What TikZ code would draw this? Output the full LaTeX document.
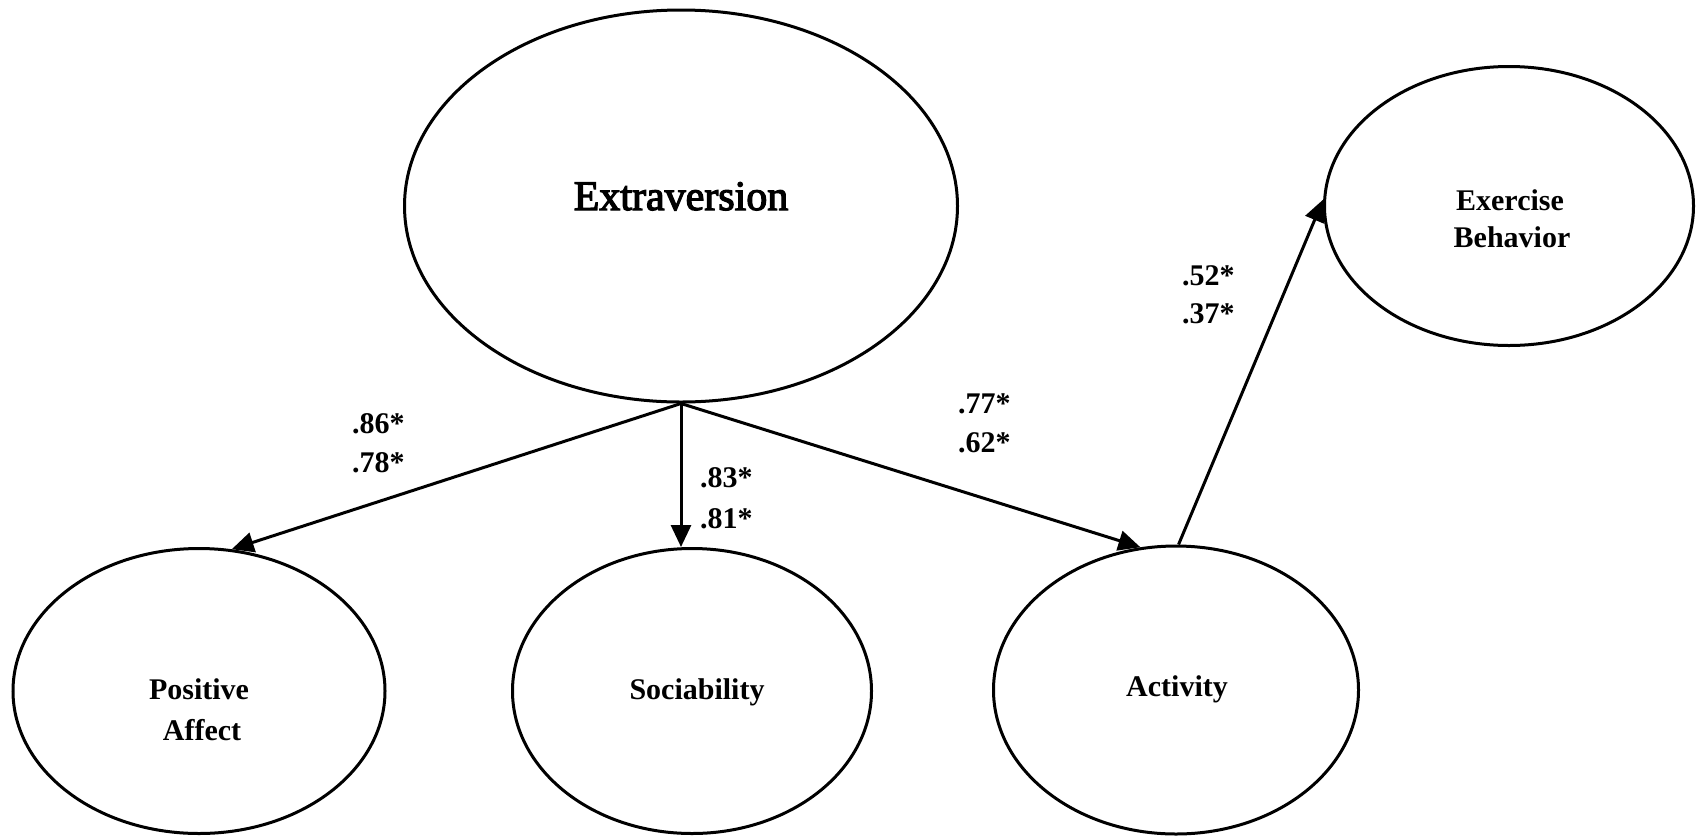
\documentclass[tikz,border=0pt]{standalone}
\usepackage{fontspec}
\setmainfont{Liberation Serif}
\newfontfamily\heavyserif[FakeBold=3]{Liberation Serif}
\usetikzlibrary{arrows.meta,shapes.geometric}

\tikzset{
  latent/.style={ellipse, draw, line width=3pt, inner sep=0pt},
  effect/.style={line width=3pt, -{Triangle[length=22pt,width=20pt]}},
  bigvar/.style={font=\fontsize{42}{50}\selectfont\heavyserif, inner sep=0pt, anchor=base},
  varlabel/.style={font=\fontsize{30}{36}\selectfont\bfseries, inner sep=0pt, anchor=base},
  coef/.style={font=\fontsize{30}{36}\selectfont\bfseries, inner sep=0pt, anchor=base west}
}

\begin{document}
\begin{tikzpicture}[x=1pt, y=-1pt]
\useasboundingbox (0,0) rectangle (1697,836);

% latent variables
\node[latent, minimum width=553pt, minimum height=392pt] (ext) at (681,206) {};
\node[latent, minimum width=372pt, minimum height=285pt] (pa)  at (199,691) {};
\node[latent, minimum width=359pt, minimum height=285pt] (soc) at (692,691) {};
\node[latent, minimum width=365pt, minimum height=288pt] (act) at (1176,690) {};
\node[latent, minimum width=369pt, minimum height=279pt] (exb) at (1509,206) {};

% variable names
\node[bigvar] (ext-t) at (681,210) {Extraversion};
\node[varlabel] (pa-t1) at (199,699) {Positive};
\node[varlabel] (pa-t2) at (202,740) {Affect};
\node[varlabel] (soc-t) at (697,699) {Sociability};
\node[varlabel] (act-t) at (1177,696) {Activity};
\node[varlabel] (exb-t1) at (1510,210) {Exercise};
\node[varlabel] (exb-t2) at (1512,247) {Behavior};

% structural paths
\draw[effect] (ext.south) -- (pa.77);
\draw[effect] (ext.south) -- (ext.south |- soc.north);
\draw[effect] (ext.south) -- (act.104);
\draw[effect] (act.89) -- (exb.178);

% path coefficients
\node[coef] (c86) at (352,433) {.86*};
\node[coef] (c78) at (352,472) {.78*};
\node[coef] (c83) at (700,487) {.83*};
\node[coef] (c81) at (700,528) {.81*};
\node[coef] (c77) at (958,413) {.77*};
\node[coef] (c62) at (958,452) {.62*};
\node[coef] (c52) at (1182,285) {.52*};
\node[coef] (c37) at (1182,323) {.37*};
\end{tikzpicture}
\end{document}
